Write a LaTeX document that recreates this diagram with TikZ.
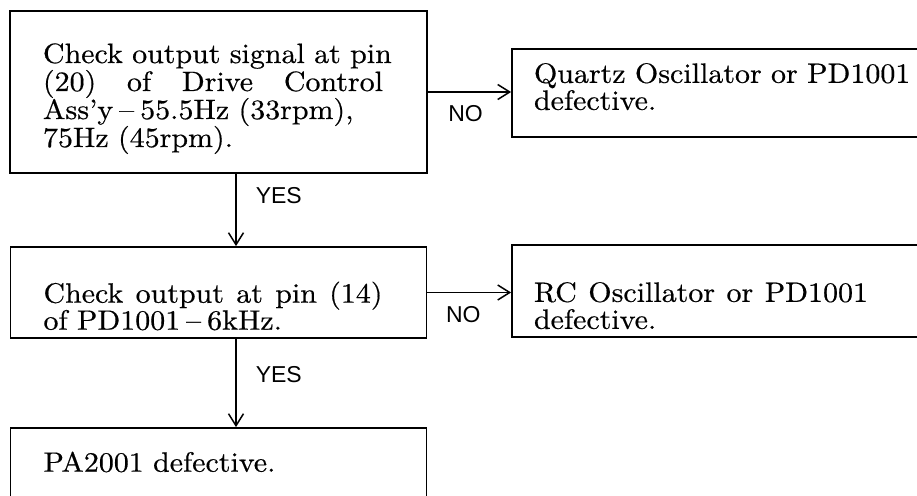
\documentclass[tikz,border=0pt]{standalone}
\usepackage{fontspec}
\newfontfamily\labelfont{Liberation Sans}
\newfontfamily\boxserif{lmroman10-regular.otf}[FakeStretch=1.07, FakeBold=0.5, Ligatures=TeX]
\usetikzlibrary{arrows.meta}
\newcommand\boxfont{\boxserif\fontsize{28}{27}\selectfont\lineskiplimit=-20pt\relax}
\newcommand\widefont{\boxserif\fontsize{28}{28}\selectfont\lineskiplimit=-20pt\relax}

\begin{document}
\begin{tikzpicture}[x=1pt, y=-1pt,
    >={Straight Barb[length=12pt, width=15pt]},
    check_block/.style={
        draw, line width=1.8pt, rectangle, align=left,
        inner xsep=33pt, inner ysep=0pt, font=\boxfont
    },
    result_block/.style={
        check_block, inner xsep=22pt
    },
    signal/.style={->, line width=1.5pt},
    tlabel/.style={font=\labelfont\fontsize{23}{23}\selectfont, inner sep=2pt},
]
\useasboundingbox (0,0) rectangle (917,495);

% --- Coordinates ---
\def\xl{218.5}
\def\xr{723.5}
\def\xyes{236}
\def\yone{92}
\def\ytwo{292.5}
\def\ythree{466.5}
\def\yq{93}
\def\yrc{291}

% --- Left column: checks ---
\node[check_block, minimum width=417pt, minimum height=162pt, text width=351pt,
      font=\widefont, text height=33pt]
    (check1) at (\xl,\yone)
    {Check output signal at pin\\
     \leavevmode\hbox to 340pt{(20)\hfill of\hfill Drive\hfill Control}\\
     Ass'y\kern6pt--\kern6pt55.5Hz (33rpm),\\
     75Hz (45rpm).};
\node[check_block, minimum width=416pt, minimum height=91pt, text width=350pt,
      text height=48pt]
    (check2) at (\xl,\ytwo)
    {\leavevmode\hbox to 339pt{Check\hfill output\hfill at\hfill pin\hfill (14)}\\
     of PD1001\kern6pt--\kern6pt6kHz.};
\node[check_block, minimum width=416pt, minimum height=77pt, text width=350pt,
      text height=11pt]
    (fault3) at (\xl,\ythree) {PA2001 defective.};

% --- Right column: faults ---
\node[result_block, minimum width=423pt, minimum height=88pt, text width=379pt,
      text height=7pt]
    (fault1) at (\xr,\yq)
    {Quartz Oscillator or PD1001\\ defective.};
\node[result_block, minimum width=423pt, minimum height=92pt, text width=379pt,
      text height=49pt]
    (fault2) at (\xr,\yrc)
    {\leavevmode\hbox to 334pt{RC\hfill Oscillator\hfill or\hfill PD1001}\\ defective.};

% --- NO branches ---
\draw[signal] (check1.east) -- (check1.east -| fault1.west)
    node[tlabel, midway, below=11pt, xshift=-4pt] (no1) {NO};
\draw[signal] (check2.east) -- (check2.east -| fault2.west)
    node[tlabel, midway, below=11pt, xshift=-6pt] (no2) {NO};

% --- YES branches ---
\coordinate (yes_x) at (\xyes,0);
\draw[signal] (check1.south -| yes_x) -- (check2.north -| yes_x)
    node[tlabel, pos=0.3, right=17pt] (yes1) {YES};
\draw[signal] (check2.south -| yes_x) -- (fault3.north -| yes_x)
    node[tlabel, pos=0.4, right=17pt] (yes2) {YES};

\end{tikzpicture}
\end{document}
